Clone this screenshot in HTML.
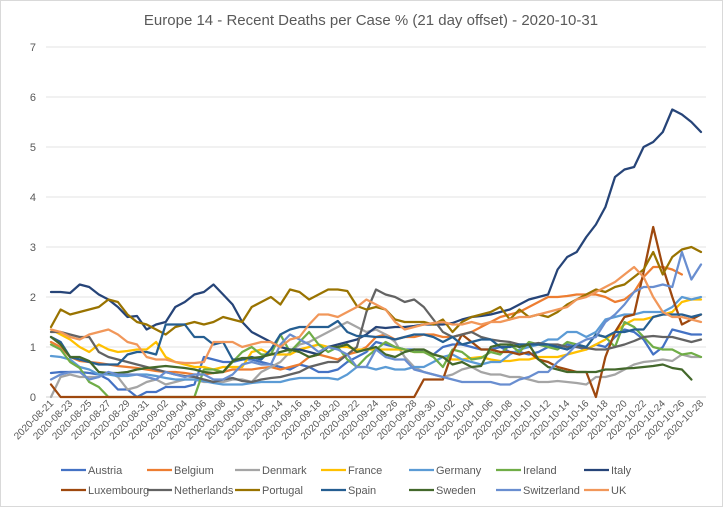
<!DOCTYPE html>
<html><head><meta charset="utf-8"><style>
body{margin:0;background:#fff;}
#wrap{position:relative;width:721px;height:505px;border:1px solid #d9d9d9;background:#fff;font-family:"Liberation Sans",sans-serif;}
svg text{font-family:"Liberation Sans",sans-serif;}
</style></head><body>
<div id="wrap">
<svg id="chart" width="721" height="505"></svg>
</div>
<script>
const startDate = "2020-08-21";
const yTicks = [0,1,2,3,4,5,6,7];
const austria = [0.48,0.5,0.5,0.5,0.48,0.45,0.35,0.15,0.15,0.0,0.1,0.1,0.2,0.2,0.2,0.25,0.8,0.75,0.7,0.7,0.75,0.75,0.7,0.65,0.6,0.55,0.65,0.6,0.5,0.5,0.55,0.7,0.8,0.9,1.1,1.05,1.0,0.95,0.95,0.9,0.85,1.0,1.05,1.05,1.0,0.95,0.95,1.0,0.9,0.9,0.85,0.9,1.0,1.0,1.05,1.0,0.95,1.05,1.0,1.2,1.35,1.3,1.15,0.85,1.0,1.35,1.3,1.25,1.25];
const belgium = [1.1,1.0,0.8,0.72,0.7,0.68,0.65,0.62,0.6,0.58,0.55,0.52,0.5,0.5,0.48,0.45,0.45,0.48,0.5,0.55,0.55,0.55,0.58,0.6,0.55,0.6,0.65,0.8,0.85,0.8,0.75,0.85,0.9,1.0,1.2,1.25,1.15,1.2,1.2,1.25,1.25,1.2,1.2,1.25,1.3,1.4,1.5,1.6,1.65,1.7,1.8,1.9,2.0,2.0,2.02,2.05,2.05,2.05,2.0,1.9,1.95,2.1,2.4,2.6,2.6,2.55,2.45,null,null];
const denmark = [0,0.4,0.45,0.4,0.4,0.4,0.5,0.4,0.15,0.2,0.3,0.35,0.25,0.3,0.35,0.35,0.3,0.3,0.3,0.35,0.35,0.3,0.5,0.6,0.7,0.9,1.05,1.1,1.2,1.3,1.4,1.5,1.4,1.3,1.35,1.25,1.1,0.8,0.6,0.5,0.45,0.4,0.45,0.55,0.6,0.5,0.45,0.45,0.4,0.4,0.35,0.3,0.3,0.32,0.3,0.28,0.25,0.4,0.4,0.45,0.55,0.65,0.7,0.72,0.75,0.72,0.85,0.8,0.8];
const france = [1.35,1.25,1.15,1.0,0.9,1.05,0.95,0.9,0.92,0.95,0.95,1.1,0.8,0.7,0.65,0.6,0.6,0.55,0.6,0.6,0.6,0.9,0.95,0.85,0.85,0.85,0.95,1.0,1.05,1.0,1.0,1.0,0.95,0.95,0.95,0.95,0.95,0.95,0.9,0.9,0.85,0.8,0.75,0.75,0.78,0.8,0.75,0.72,0.72,0.75,0.75,0.8,0.8,0.8,0.85,0.9,0.95,1.05,1.15,1.3,1.45,1.55,1.55,1.6,1.65,1.7,1.9,1.95,1.95];
const germany = [0.82,0.8,0.75,0.6,0.55,0.45,0.45,0.42,0.42,0.45,0.45,0.42,0.38,0.35,0.35,0.35,0.32,0.28,0.25,0.25,0.25,0.28,0.3,0.3,0.3,0.35,0.38,0.38,0.38,0.38,0.35,0.45,0.6,0.6,0.55,0.6,0.55,0.55,0.6,0.6,0.7,0.8,0.85,0.75,0.7,0.65,0.7,0.7,0.85,0.95,1.0,1.05,1.15,1.15,1.3,1.3,1.2,1.3,1.55,1.6,1.65,1.65,1.7,1.7,1.7,1.8,2.0,1.95,2.0];
const ireland = [1.05,0.95,0.7,0.58,0.3,0.2,0,0,0,0,0,0,0,0,0,0,0.55,0.55,0.5,0.7,0.9,1.0,0.85,0.85,1.25,0.9,1.1,1.3,1.05,0.9,1.0,0.75,0.6,0.8,0.95,1.1,1.0,0.95,0.9,0.9,0.8,0.6,0.95,0.9,0.75,0.78,0.9,0.85,1.05,0.9,1.1,1.05,1.0,0.95,1.1,1.05,1.0,1.25,1.2,1.0,1.5,1.4,1.2,1.0,0.95,0.95,0.85,0.88,0.8];
const italy = [2.1,2.1,2.08,2.25,2.2,2.05,1.95,1.8,1.6,1.62,1.35,1.45,1.5,1.8,1.9,2.05,2.1,2.25,2.05,1.85,1.5,1.3,1.2,1.1,1.0,0.95,0.95,0.9,0.85,1.0,1.05,1.1,1.15,1.25,1.4,1.38,1.4,1.4,1.42,1.45,1.45,1.45,1.48,1.55,1.6,1.62,1.65,1.7,1.75,1.85,1.95,2.0,2.05,2.55,2.8,2.9,3.2,3.45,3.8,4.4,4.55,4.6,5.0,5.1,5.3,5.75,5.65,5.5,5.3];
const luxembourg = [0.25,0,0,0,0,0,0,0,0,0,0,0,0,0,0,0,0,0,0,0,0,0,0,0,0,0,0,0,0,0,0,0,0,0,0,0,0,0,0,0.35,0.35,0.35,0.9,1.25,1.1,0.95,0.95,0.9,0.9,0.85,0.9,0.75,0.7,0.6,0.55,0.5,0.5,0,0.8,1.3,1.6,1.65,2.5,3.4,2.6,2.0,1.45,1.55,1.65];
const netherlands = [1.3,1.3,1.25,1.2,1.2,0.9,0.8,0.75,0.7,0.65,0.6,0.55,0.5,0.45,0.42,0.4,0.35,0.3,0.35,0.38,0.32,0.3,0.35,0.38,0.4,0.45,0.5,0.6,0.65,0.7,0.7,0.85,1.0,1.7,2.15,2.05,2.0,1.9,1.95,1.8,1.55,1.3,1.2,1.25,1.3,1.2,1.15,1.12,1.1,1.05,1.05,1.08,1.05,1.05,1.0,1.0,0.98,0.95,0.95,1.0,1.05,1.12,1.2,1.22,1.2,1.2,1.15,1.1,1.15];
const portugal = [1.4,1.75,1.65,1.7,1.75,1.8,1.95,1.9,1.65,1.5,1.45,1.35,1.25,1.4,1.45,1.5,1.45,1.5,1.6,1.55,1.5,1.8,1.9,2.0,1.85,2.15,2.1,1.95,2.05,2.15,2.15,2.12,1.82,1.75,1.8,1.75,1.55,1.5,1.5,1.5,1.45,1.55,1.3,1.5,1.6,1.65,1.7,1.8,1.55,1.75,1.6,1.65,1.6,1.7,1.85,1.95,2.05,2.15,2.1,2.2,2.25,2.4,2.55,2.9,2.45,2.8,2.95,3.0,2.9];
const spain = [1.2,1.1,0.8,0.75,0.7,0.65,0.65,0.65,0.85,0.9,0.9,0.85,1.45,1.45,1.45,1.2,1.2,1.05,1.1,0.75,0.75,0.8,0.75,0.95,1.25,1.35,1.4,1.4,1.4,1.4,1.52,1.3,1.22,1.22,1.2,1.2,1.15,1.2,1.25,1.25,1.2,1.1,1.2,1.05,1.1,1.15,1.15,1.0,1.0,1.05,1.05,1.05,1.05,1.0,0.95,1.05,1.0,1.25,1.2,1.3,1.3,1.35,1.35,1.6,1.65,1.65,1.65,1.6,1.65];
const sweden = [1.2,1.05,0.8,0.8,0.72,0.5,0.48,0.48,0.5,0.55,0.58,0.6,0.62,0.6,0.58,0.55,0.5,0.48,0.5,0.72,0.78,0.78,0.8,0.85,0.9,0.95,0.9,0.8,0.85,1.0,1.0,1.05,0.9,0.95,1.0,0.85,0.8,0.9,0.95,0.95,0.85,0.8,0.65,0.7,0.6,0.62,1.0,1.05,1.05,1.0,1.05,0.75,0.6,0.55,0.5,0.5,0.5,0.5,0.55,0.55,0.57,0.58,0.6,0.62,0.65,0.58,0.55,0.35,null];
const switzerland = [0.35,0.45,0.5,0.5,0.35,0.4,0.5,0.45,0.45,0.45,0.4,0.35,0.5,0.45,0.4,0.45,0.45,0.35,0.35,0.45,0.65,0.7,0.65,0.65,1.05,1.25,1.15,1.05,0.9,1.0,0.95,0.85,0.6,0.6,0.95,0.8,0.75,0.75,0.55,0.5,0.45,0.4,0.35,0.3,0.3,0.3,0.3,0.25,0.25,0.35,0.4,0.5,0.5,0.7,0.85,1.05,1.15,1.2,1.5,1.65,1.85,2.1,2.2,2.2,2.25,2.2,2.9,2.35,2.65];
const uk = [1.35,1.3,1.2,1.15,1.25,1.3,1.35,1.25,1.1,1.05,0.8,0.75,0.75,0.7,0.68,0.68,0.7,1.1,1.1,1.1,1.0,1.05,1.1,1.1,1.0,1.15,1.2,1.45,1.65,1.65,1.6,1.7,1.8,1.95,1.85,1.75,1.5,1.35,1.4,1.45,1.48,1.5,1.45,1.45,1.5,1.45,1.5,1.5,1.55,1.6,1.6,1.65,1.7,1.75,1.8,1.95,2.0,2.1,2.2,2.3,2.45,2.6,2.4,2.0,1.7,1.6,1.6,1.55,1.5];

const seriesNames = ["Austria","Belgium","Denmark","France","Germany","Ireland","Italy","Luxembourg","Netherlands","Portugal","Spain","Sweden","Switzerland","UK"];
const seriesData = [austria,belgium,denmark,france,germany,ireland,italy,luxembourg,netherlands,portugal,spain,sweden,switzerland,uk];
const colors = ["#4472c4","#ed7d31","#a5a5a5","#ffc000","#5b9bd5","#70ad47","#264478","#9e480e","#636363","#997300","#255e91","#43682b","#698ed0","#f1975a"];

const NS="http://www.w3.org/2000/svg";
const svg=document.getElementById('chart');
const L=45,R=705,T=46,B=396,yMax=7;
const nPts=austria.length;
const x0=50, x1=700;
function xScale(i){return x0+(x1-x0)*i/(nPts-1);}
function yScale(v){return B-(B-T)*v/yMax;}
function mk(tag,attrs){const e=document.createElementNS(NS,tag);for(const k in attrs)e.setAttribute(k,attrs[k]);svg.appendChild(e);return e;}

const title=mk('text',{x:370,y:24,'text-anchor':'middle','font-size':'15','fill':'#595959'});
title.textContent="Europe 14 - Recent Deaths per Case % (21 day offset)  - 2020-10-31";



yTicks.forEach(t=>{
  const g=mk('line',{x1:L,x2:R,y1:yScale(t),y2:yScale(t),stroke:t===0?'#d0d0d0':'#e3e3e3','stroke-width':1});
  
  
  const tx=mk('text',{x:35,y:yScale(t)+4,'text-anchor':'end','font-size':'11',fill:'#595959'});
  tx.textContent=t;
  
  
});

function dateLabel(i){const d=new Date(startDate+"T00:00:00Z");d.setUTCDate(d.getUTCDate()+i);return d.toISOString().slice(0,10);}
for(let i=0;i<nPts;i+=2){
  const x=xScale(i);
  const tx=mk('text',{x:x+3,y:403,'text-anchor':'end','font-size':'10',fill:'#595959',transform:`rotate(-45 ${x+3} 403)`});
  tx.textContent=dateLabel(i);
  
  
}

seriesData.forEach((arr,s)=>{
  let d="",pen=false;
  arr.forEach((v,i)=>{
    if(v===null||v===undefined){pen=false;return;}
    d+=(pen?"L":"M")+xScale(i).toFixed(1)+","+yScale(v).toFixed(1);pen=true;
  });
  const p=mk('path',{d:d,fill:'none',stroke:colors[s],'stroke-width':2.25,'stroke-linejoin':'round','stroke-linecap':'round'});
  
  
});

const colX=[60,146,234,320,408,495,583];
seriesNames.forEach((n,s)=>{
  const row=Math.floor(s/7),col=s%7;
  const y=row===0?469:489;
  const g=document.createElementNS(NS,'g');
  
  
  svg.appendChild(g);
  const l=document.createElementNS(NS,'line');
  l.setAttribute('x1',colX[col]);l.setAttribute('x2',colX[col]+25);l.setAttribute('y1',y);l.setAttribute('y2',y);
  l.setAttribute('stroke',colors[s]);l.setAttribute('stroke-width',2.25);
  g.appendChild(l);
  const t=document.createElementNS(NS,'text');
  t.setAttribute('x',colX[col]+27);t.setAttribute('y',y+4);t.setAttribute('font-size','11');t.setAttribute('fill','#595959');
  t.textContent=n;
  g.appendChild(t);
});
</script>
</body></html>
